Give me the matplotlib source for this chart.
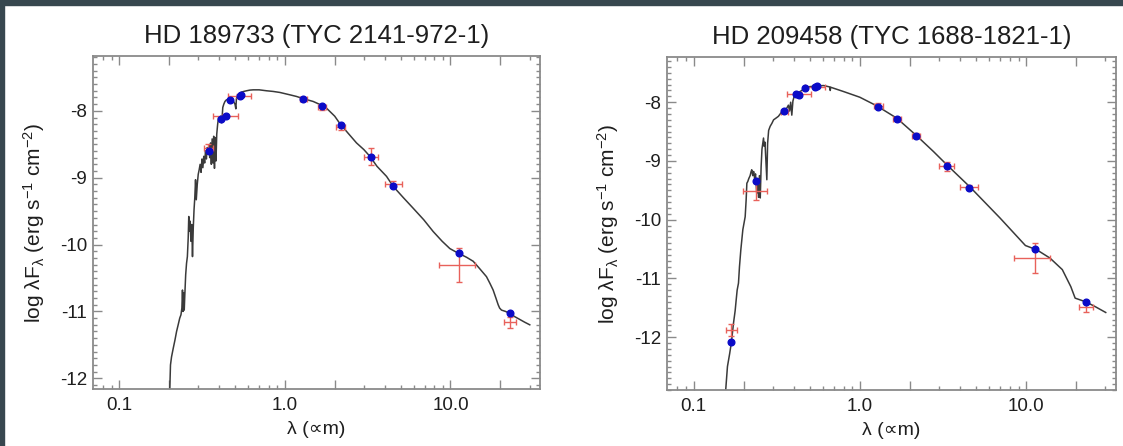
import numpy as np
import matplotlib
matplotlib.use('Agg')
import matplotlib.pyplot as plt
from matplotlib.patches import Rectangle
from matplotlib.ticker import FixedLocator, MultipleLocator, FixedFormatter

plt.rcParams['font.family'] = ['Liberation Sans', 'DejaVu Sans']
plt.rcParams['mathtext.fontset'] = 'custom'
plt.rcParams['mathtext.rm'] = 'Liberation Sans'
plt.rcParams['mathtext.default'] = 'regular'
plt.rcParams['axes.unicode_minus'] = False

# ---------------- HD 189733 ----------------
title_a = 'HD 189733 (TYC 2141-972-1)'
model_wl_a = [0.202, 0.204, 0.207, 0.212, 0.217, 0.222, 0.227, 0.232, 0.236, 0.239,
              0.241, 0.243, 0.245, 0.247, 0.249, 0.252, 0.255, 0.258, 0.261, 0.263,
              0.265, 0.268, 0.271, 0.274, 0.277, 0.280, 0.283, 0.286, 0.289, 0.292,
              0.296, 0.300, 0.304, 0.308, 0.312, 0.316, 0.320, 0.324, 0.328, 0.332,
              0.336, 0.340, 0.344, 0.348, 0.352, 0.356, 0.360, 0.364, 0.368, 0.372,
              0.376, 0.380, 0.384, 0.388, 0.393, 0.398, 0.404, 0.410, 0.416, 0.422,
              0.428, 0.435, 0.442, 0.450, 0.460, 0.470, 0.480, 0.490, 0.500, 0.506,
              0.510, 0.516, 0.530, 0.548, 0.565, 0.587, 0.615, 0.644, 0.70, 0.775,
              0.85, 0.933, 1.07, 1.176, 1.30, 1.483, 1.68, 1.784, 2.0, 2.148,
              2.40, 2.708, 3.0, 3.26, 3.6, 4.11, 4.51, 5.2, 5.95, 6.9,
              7.86, 8.9, 9.91, 10.6, 11.39, 12.5, 13.71, 15.0, 16.49, 17.3,
              18.09, 18.8, 19.40, 19.8, 20.32, 21.5, 22.8, 24.5, 26.2, 28.0, 30.1]
model_fx_a = [-12.17, -11.80, -11.68, -11.55, -11.43, -11.30, -11.20, -11.10, -11.05, -10.95,
              -10.68, -11.00, -10.72, -10.98, -10.75, -10.45, -10.28, -10.18, -9.90, -9.58,
              -9.80, -9.65, -9.95, -9.70, -10.18, -9.75, -9.48, -9.30, -9.03, -9.33,
              -9.10, -8.95, -8.88, -8.80, -8.92, -8.72, -8.85, -8.68, -8.78, -8.60,
              -8.72, -8.55, -8.65, -8.52, -8.70, -8.48, -8.80, -8.42, -8.78, -8.38,
              -8.86, -8.40, -8.75, -8.35, -8.20, -8.10, -8.15, -8.08, -8.18, -7.95,
              -7.90, -7.86, -7.84, -7.83, -7.84, -7.85, -7.84, -7.86, -7.90, -7.97,
              -7.82, -7.78, -7.74, -7.72, -7.71, -7.70, -7.69, -7.686, -7.686, -7.70,
              -7.71, -7.725, -7.76, -7.785, -7.82, -7.86, -7.92, -7.96, -8.08, -8.19,
              -8.33, -8.48, -8.58, -8.68, -8.83, -8.98, -9.13, -9.30, -9.456, -9.63,
              -9.805, -9.95, -10.06, -10.10, -10.14, -10.19, -10.25, -10.36, -10.48, -10.58,
              -10.68, -10.80, -10.90, -10.95, -10.98, -11.00, -11.03, -11.08, -11.12, -11.16, -11.20]
phot_wl_a = [0.349, 0.409, 0.441, 0.466, 0.535, 0.547, 1.296, 1.68, 2.18, 3.31, 4.51, 11.2, 22.8]
phot_fx_a = [-8.608, -8.125, -8.08, -7.845, -7.776, -7.76, -7.825, -7.925, -8.209, -8.693,
             -9.122, -10.12, -11.017]
obs_wl_a = [0.346, 0.438, 0.530, 1.296, 1.68, 2.18, 3.31, 4.51, 11.2, 22.8]
obs_lo_a = [0.327, 0.369, 0.451, 1.237, 1.58, 2.05, 2.99, 4.01, 8.5, 21.0]
obs_hi_a = [0.366, 0.518, 0.623, 1.357, 1.78, 2.31, 3.66, 5.13, 14.1, 24.8]
obs_fx_a = [-8.55, -8.08, -7.776, -7.83, -7.95, -8.244, -8.683, -9.092, -10.309, -11.162]
obs_err_a = [0.05, 0.03, 0.03, 0.03, 0.04, 0.04, 0.13, 0.05, 0.254, 0.082]

# ---------------- HD 209458 ----------------
title_b = 'HD 209458 (TYC 1688-1821-1)'
model_wl_b = [0.1557, 0.160, 0.165, 0.169, 0.174, 0.178, 0.1805, 0.183, 0.1864, 0.189,
              0.1926, 0.198, 0.2045, 0.2073, 0.2093, 0.212, 0.215, 0.219, 0.222, 0.224,
              0.227, 0.230, 0.233, 0.236, 0.240, 0.243, 0.246, 0.249, 0.252, 0.255,
              0.258, 0.2636, 0.266, 0.269, 0.276, 0.279, 0.283, 0.289, 0.296, 0.303,
              0.310, 0.317, 0.324, 0.332, 0.340, 0.348, 0.356, 0.364, 0.372, 0.378,
              0.384, 0.390, 0.396, 0.403, 0.410, 0.418, 0.430, 0.448, 0.469, 0.500,
              0.551, 0.605, 0.660, 0.664, 0.668, 0.798, 1.0, 1.265, 1.669, 2.201,
              2.773, 3.34, 4.61, 6.98, 9.9, 11.59, 13.93, 16.5, 18.56, 19.71,
              21.1, 22.9, 26.0, 30.1]
model_fx_b = [-12.95, -12.50, -12.28, -12.09, -11.76, -11.55, -11.37, -11.20, -11.08, -10.80,
              -10.51, -10.17, -9.95, -9.66, -9.38, -9.35, -9.30, -9.25, -9.18, -9.15,
              -9.25, -9.18, -9.30, -9.22, -9.55, -9.30, -9.62, -9.25, -9.63, -9.10,
              -8.80, -8.61, -8.75, -8.68, -9.32, -8.70, -8.48, -8.41, -8.36, -8.30,
              -8.28, -8.26, -8.24, -8.20, -8.16, -8.14, -8.12, -8.10, -8.05, -8.15,
              -8.00, -8.22, -7.98, -7.90, -7.86, -7.85, -7.83, -7.80, -7.745, -7.735,
              -7.722, -7.716, -7.74, -7.80, -7.745, -7.818, -7.915, -8.062, -8.272, -8.573,
              -8.84, -9.067, -9.447, -9.974, -10.44, -10.513, -10.655, -10.85, -11.14, -11.336,
              -11.365, -11.40, -11.48, -11.58]
phot_wl_b = [0.169, 0.238, 0.351, 0.412, 0.433, 0.467, 0.539, 0.549, 1.295, 1.677, 2.18,
             3.34, 4.56, 11.28, 22.9]
phot_fx_b = [-12.09, -9.339, -8.148, -7.858, -7.881, -7.75, -7.733, -7.728, -8.074, -8.284,
             -8.567, -9.078, -9.464, -10.496, -11.40]
obs_wl_b = [0.169, 0.238, 0.351, 0.428, 0.539, 1.295, 1.677, 2.18, 3.34, 4.56, 11.28, 22.9]
obs_lo_b = [0.156, 0.198, 0.335, 0.364, 0.469, 1.225, 1.58, 2.05, 2.99, 4.01, 8.51, 20.9]
obs_hi_b = [0.183, 0.276, 0.368, 0.510, 0.619, 1.369, 1.78, 2.31, 3.69, 5.17, 13.9, 25.1]
obs_fx_b = [-11.875, -9.52, -8.16, -7.864, -7.733, -8.06, -8.284, -8.567, -9.09, -9.44,
            -10.655, -11.49]
obs_err_b = [0.1, 0.14, 0.03, 0.03, 0.03, 0.045, 0.04, 0.04, 0.077, 0.03, 0.255, 0.074]

xlims = (0.069, 34.7)
ylims_a = (-12.16, -7.18)
ylims_b = (-12.9, -7.23)
y_ticks = [-12, -11, -10, -9, -8]
x_major = [0.1, 0.2, 1.0, 2.0, 10.0, 20.0]
x_labels = ['0.1', '', '1.0', '', '10.0', '']
x_minor = [0.08, 0.09, 0.3, 0.4, 0.5, 0.6, 0.7, 0.8, 0.9, 3, 4, 5, 6, 7, 8, 9, 30]

txt = '#1e1e1e'
frame = '#8a8a8a'

fig = plt.figure(figsize=(11.23, 4.46), dpi=100)
W, H = 1123, 446
# dark screenshot border on top and left
fig.add_artist(Rectangle((0, 1 - 5 / H), 1, 5 / H, transform=fig.transFigure,
                         color='#37474f', zorder=10))
fig.add_artist(Rectangle((0, 0), 4 / W, 1, transform=fig.transFigure,
                         color='#37474f', zorder=10))

ax_a = fig.add_axes([92.5 / W, (H - 389) / H, (540 - 92.5) / W, 333 / H])
ax_b = fig.add_axes([666.7 / W, (H - 390) / H, (1116 - 666.7) / W, 333 / H])

panels = [
    (ax_a, title_a, model_wl_a, model_fx_a, phot_wl_a, phot_fx_a,
     obs_wl_a, obs_lo_a, obs_hi_a, obs_fx_a, obs_err_a, ylims_a),
    (ax_b, title_b, model_wl_b, model_fx_b, phot_wl_b, phot_fx_b,
     obs_wl_b, obs_lo_b, obs_hi_b, obs_fx_b, obs_err_b, ylims_b),
]

for ax, title, mwl, mfx, pwl, pfx, owl, olo, ohi, ofx, oerr, ylims in panels:
    owl = np.array(owl)
    xerr = [owl - np.array(olo), np.array(ohi) - owl]
    ax.plot(mwl, mfx, color='#3a3a3a', lw=1.1, zorder=2)
    ax.errorbar(owl, ofx, xerr=xerr, yerr=oerr, fmt='none', ecolor='#e8615b',
                elinewidth=1.0, capsize=2.5, capthick=1.0, zorder=3)
    ax.plot(pwl, pfx, 'o', color='#0b0bc8', markersize=4.8, zorder=4)

    ax.set_xscale('log')
    ax.set_xlim(*xlims)
    ax.set_ylim(*ylims)
    ax.xaxis.set_major_locator(FixedLocator(x_major))
    ax.xaxis.set_major_formatter(FixedFormatter(x_labels))
    ax.xaxis.set_minor_locator(FixedLocator(x_minor))
    ax.yaxis.set_major_locator(FixedLocator(y_ticks))
    ax.yaxis.set_minor_locator(MultipleLocator(0.1))
    ax.set_yticklabels([str(t) for t in y_ticks])

    ax.tick_params(which='both', direction='in', top=True, right=True,
                   color=frame, labelcolor=txt, labelsize=13.5)
    ax.tick_params(which='major', length=6.5, width=1)
    ax.tick_params(which='minor', length=3, width=1)
    ax.tick_params(axis='x', which='major', pad=6)
    ax.tick_params(axis='y', which='major', pad=4)
    for s in ax.spines.values():
        s.set_color(frame)
        s.set_linewidth(1.3)

    ax.set_title(title, fontsize=18.5, color=txt, pad=9.6)
    ax.set_xlabel('\u03bb (\u221dm)', fontsize=14, color=txt, va='top')
    ax.xaxis.set_label_coords(0.5, -0.096)
    ax.set_ylabel(r'log $\lambda$F$_\lambda$ (erg s$^{-1}$ cm$^{-2}$)',
                  fontsize=15, color=txt)
    ax.yaxis.set_label_coords(-0.102, 0.5)

fig.savefig('out.png', dpi=100)
